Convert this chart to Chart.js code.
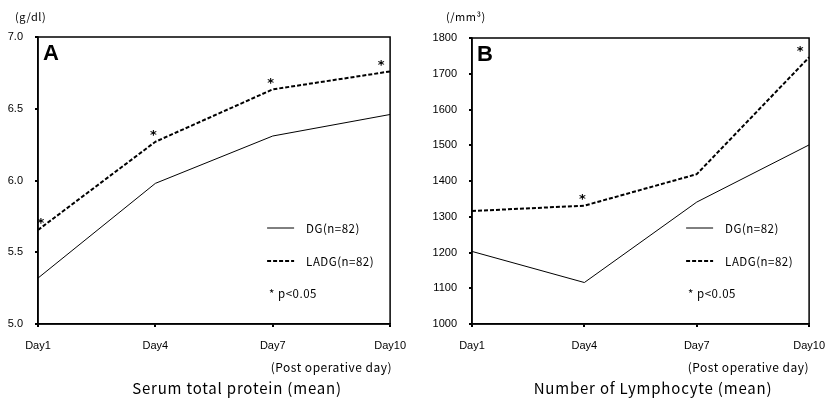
<!DOCTYPE html>
<html>
<head>
<meta charset="utf-8">
<script src="https://cdn.jsdelivr.net/npm/chart.js@4.4.0/dist/chart.umd.min.js"></script>
<style>
  body { margin: 0; background: #fff; }
  #wrap { position: relative; width: 837px; height: 400px; }
  .box { position: absolute; top: 0; height: 400px; }
</style>
</head>
<body>
<div id="wrap">
  <div class="box" style="left:0;width:418px"><canvas id="chartA"></canvas></div>
  <div class="box" style="left:418px;width:419px"><canvas id="chartB"></canvas></div>
</div>
<script>
const days = ['Day1', 'Day4', 'Day7', 'Day10'];

// Serum total protein (g/dl)
const proteinDG = [5.32, 5.98, 6.31, 6.46];
const proteinLADG = [5.655, 6.27, 6.635, 6.76];
const proteinSig = [true, true, true, true];

// Number of lymphocyte (/mm3)
const lymphoDG = [1203, 1116, 1341, 1501];
const lymphoLADG = [1316, 1331, 1419, 1746];
const lymphoSig = [false, true, false, true];

const tickFont = { family: "'Liberation Sans Narrow', 'Liberation Sans', Arial, sans-serif", size: 11 };
const textFont = "'Noto Sans CJK JP', 'DejaVu Sans', sans-serif";

// draws the frame, asterisks, panel letter, unit, legend and captions
const decor = {
    id: 'decor',
    afterDraw(chart, args, opts) {
        const ctx = chart.ctx;
        const a = chart.chartArea;
        const xs = chart.scales.x, ys = chart.scales.y;
        ctx.save();
        ctx.strokeStyle = '#000';
        ctx.lineWidth = 1.5;
        ctx.strokeRect(a.left, a.top, a.right - a.left, a.bottom - a.top);

        // significance marks on LADG
        ctx.fillStyle = '#000';
        ctx.font = 'bold 13px "DejaVu Sans", sans-serif';
        ctx.textAlign = 'center';
        ctx.textBaseline = 'middle';
        const ladg = chart.data.datasets[1].data;
        opts.sig.forEach(function (s, i) {
            if (!s) return;
            let x = xs.getPixelForValue(i);
            x = Math.min(Math.max(x, a.left + 5), a.right - 7);
            const y = ys.getPixelForValue(ladg[i]) - 6;
            ctx.fillText('*', x - 2, y);
        });

        // panel letter
        ctx.textAlign = 'left';
        ctx.font = 'bold 22px "Liberation Sans", Arial, sans-serif';
        ctx.fillText(opts.letter, a.left + 5, a.top + 17);

        // unit
        ctx.font = '11px ' + textFont;
        ctx.letterSpacing = '0.5px';
        ctx.fillText(opts.unit, opts.unitX, 17);

        // legend
        const lx = a.right - 123;
        ctx.lineWidth = 1;
        ctx.beginPath();
        ctx.moveTo(lx, 228); ctx.lineTo(lx + 27, 228);
        ctx.stroke();
        ctx.lineWidth = 2;
        ctx.setLineDash([4, 2]);
        ctx.beginPath();
        ctx.moveTo(lx, 261); ctx.lineTo(lx + 27, 261);
        ctx.stroke();
        ctx.setLineDash([]);
        ctx.font = '11.5px ' + textFont;
        ctx.fillText('DG(n=82)', lx + 39, 229);
        ctx.fillText('LADG(n=82)', lx + 39, 262);
        ctx.fillText('* p<0.05', lx + 2, 294);

        // captions
        ctx.textAlign = 'right';
        ctx.font = '12px ' + textFont;
        ctx.fillText('(Post operative day)', opts.postRight, 367);
        ctx.textAlign = 'center';
        ctx.font = '15px ' + textFont;
        ctx.letterSpacing = '0.8px';
        ctx.fillText(opts.title, opts.titleX, 388);
        ctx.restore();
    }
};

function makeChart(id, dg, ladg, yMin, yMax, step, digits, yWidth, pad, deco) {
    return new Chart(document.getElementById(id), {
        type: 'line',
        data: {
            labels: days,
            datasets: [{
                label: 'DG(n=82)',
                data: dg,
                borderColor: '#000',
                borderWidth: 1,
                pointRadius: 0,
                tension: 0
            }, {
                label: 'LADG(n=82)',
                data: ladg,
                borderColor: '#000',
                borderWidth: 2,
                borderDash: [4, 2],
                pointRadius: 0,
                tension: 0
            }]
        },
        options: {
            responsive: false,
            animation: false,
            layout: { padding: pad },
            plugins: {
                legend: { display: false },
                tooltip: { enabled: false },
                decor: deco
            },
            scales: {
                x: {
                    offset: false,
                    grid: { drawOnChartArea: false, drawTicks: true, tickLength: 3, color: '#000', lineWidth: 2 },
                    border: { display: true, color: '#000', width: 1.5 },
                    ticks: { color: '#000', font: tickFont, padding: 12, maxRotation: 0 },
                    afterFit: function (s) { s.height = 76 - pad.bottom; }
                },
                y: {
                    min: yMin,
                    max: yMax,
                    grid: { drawOnChartArea: false, drawTicks: true, tickLength: 3, color: '#000', lineWidth: 2 },
                    border: { display: true, color: '#000', width: 1.5 },
                    ticks: {
                        color: '#000', font: tickFont, padding: 12, stepSize: step,
                        callback: function (v) { return v.toFixed(digits); }
                    },
                    afterFit: function (s) { s.width = yWidth; }
                }
            }
        },
        plugins: [decor]
    });
}

function sizeCanvas(id, w) {
    const c = document.getElementById(id);
    c.width = w; c.height = 400;
    c.style.width = w + 'px'; c.style.height = '400px';
}
sizeCanvas('chartA', 418);
sizeCanvas('chartB', 419);

makeChart('chartA', proteinDG, proteinLADG, 5.0, 7.0, 0.5, 1, 38,
    { top: 37, right: 26, bottom: 0, left: 0 },
    { sig: proteinSig, letter: 'A', unit: '(g/dl)', unitX: 15, postRight: 392, title: 'Serum total protein (mean)', titleX: 237 });

makeChart('chartB', lymphoDG, lymphoLADG, 1000, 1800, 100, 0, 54,
    { top: 38, right: 16, bottom: 0, left: 0 },
    { sig: lymphoSig, letter: 'B', unit: '(/mm³)', unitX: 28, postRight: 391, title: 'Number of Lymphocyte (mean)', titleX: 235 });
</script>
</body>
</html>
